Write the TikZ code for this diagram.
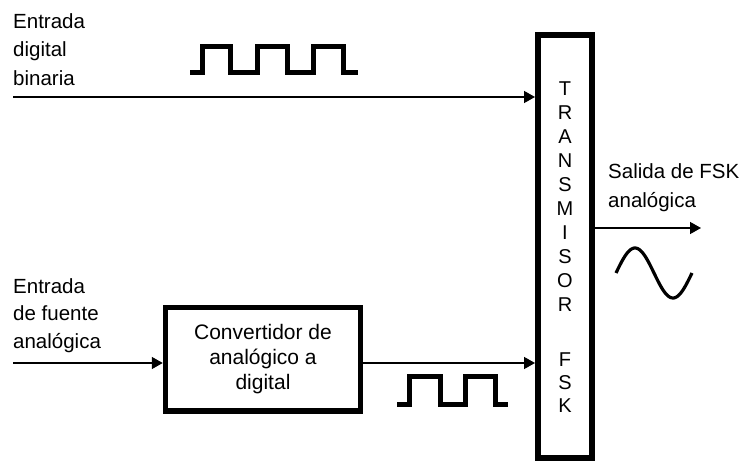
\documentclass[tikz,border=0pt]{standalone}
\usepackage{fontspec}
\setmainfont{Liberation Sans}
\usetikzlibrary{arrows.meta}
\begin{document}
\begin{tikzpicture}[x=1pt,y=-1pt,
  arr/.style={line width=1.5pt,-{Triangle[length=11pt,width=12pt]}},
  lbl/.style={inner sep=0pt,align=left,anchor=north west},
  wave/.style={line width=5pt,line join=miter,line cap=butt},
  thickbox/.style={draw,inner sep=0pt}]
\useasboundingbox (0,0) rectangle (745,462);
% transmitter
\node[thickbox,line width=6pt,minimum width=54pt,minimum height=422.5pt] (tx) at (565,246.75) {};
\node[inner sep=0pt,align=center,anchor=north,font=\fontsize{20}{24}\selectfont] (txt) at (565,81.9)
  {T\\R\\A\\N\\S\\M\\I\\S\\O\\R\\[31pt]F\\[-1pt]S\\[-1pt]K};
% converter
\node[thickbox,line width=5.5pt,minimum width=195pt,minimum height=103.5pt,align=center,
  font=\fontsize{21}{25}\selectfont] (adc) at (263,359.25)
  {Convertidor de\\anal\'ogico a\\digital};
% labels
\node[lbl,font=\fontsize{20.5}{28.5}\selectfont] (l1) at (13,13.3) {Entrada\\digital\\binaria};
\node[lbl,font=\fontsize{20.5}{27.5}\selectfont] (l2) at (13,278.3) {Entrada\\de fuente\\anal\'ogica};
\node[lbl,font=\fontsize{20.5}{29}\selectfont] (l3) at (608,163.3) {Salida de FSK\\anal\'ogica};
% connectors
\coordinate (in1) at (13,97);
\coordinate (in2) at (13,363);
\coordinate (out) at (701,228);
\draw[arr] (in1) -- (in1 -| tx.west);
\draw[arr] (in2) -- (in2 -| adc.west);
\draw[arr] (in2 -| adc.east) -- (in2 -| tx.west);
\draw[arr] (out -| tx.east) -- (out);
% square waves
\draw[wave] (190,73) -- (202,73) -- (202,47) -- (230,47) -- (230,73) -- (257,73) -- (257,47)
  -- (287,47) -- (287,73) -- (313,73) -- (313,47) -- (343,47) -- (343,73) -- (358,73);
\draw[wave] (397,405) -- (409,405) -- (409,377) -- (440,377) -- (440,405) -- (465,405)
  -- (465,377) -- (495,377) -- (495,405) -- (508,405);
% sine
\draw[line width=3.2pt] plot[domain=0:360,samples=60,smooth] ({616+\x/360*76},{273-25*sin(\x)});
\end{tikzpicture}
\end{document}
